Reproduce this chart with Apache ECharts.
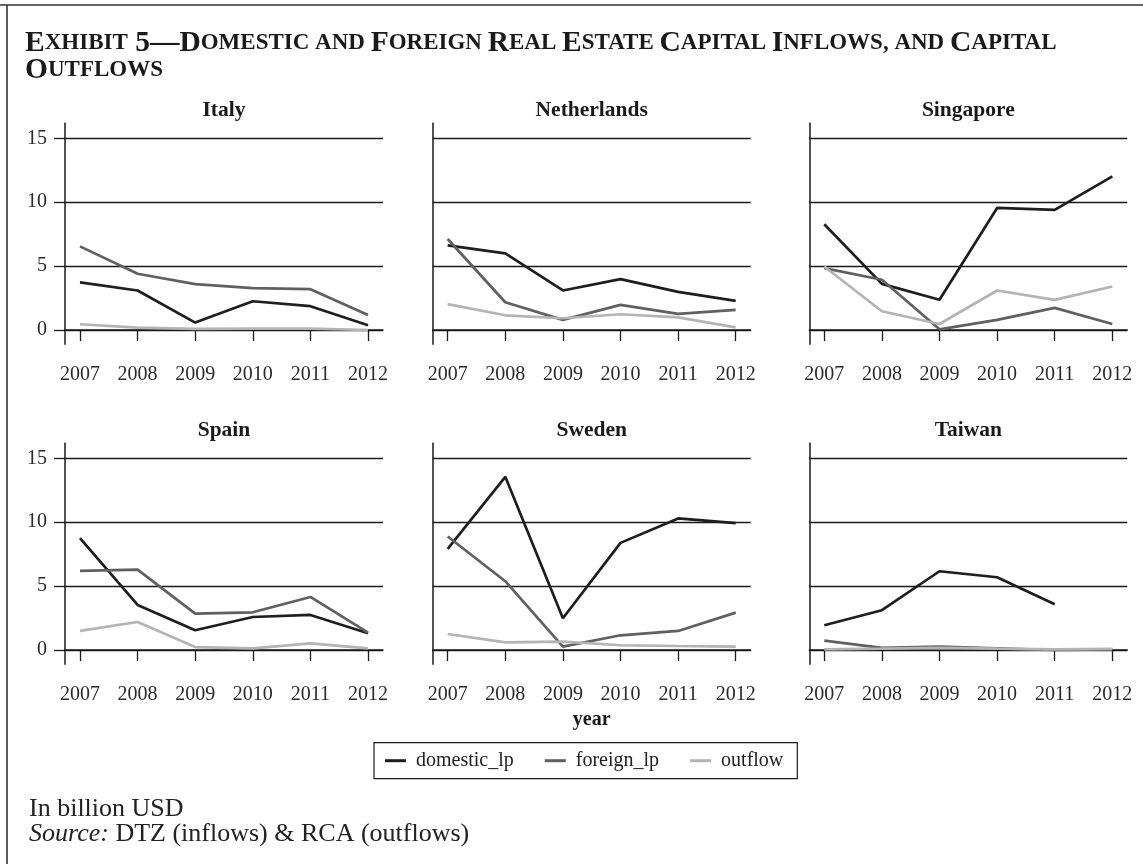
<!DOCTYPE html>
<html>
<head>
<meta charset="utf-8">
<script src="https://cdn.jsdelivr.net/npm/echarts@6/dist/echarts.min.js"></script>
<style>
  html, body { margin: 0; padding: 0; background: #fff; }
  #chart { width: 1143px; height: 864px; }
</style>
</head>
<body>
<div id="chart"></div>
<script>
// Years on the horizontal axis and value ticks on the vertical axis
const years = [2007, 2008, 2009, 2010, 2011, 2012];
const yTicks = [0, 5, 10, 15];
const countries = ['Italy', 'Netherlands', 'Singapore', 'Spain', 'Sweden', 'Taiwan'];
const seriesNames = ['domestic_lp', 'foreign_lp', 'outflow'];

// Capital flows, billion USD
const domesticItaly = [3.72, 3.09, 0.58, 2.25, 1.86, 0.37];
const foreignItaly  = [6.54, 4.40, 3.59, 3.27, 3.19, 1.18];
const outflowItaly  = [0.45, 0.18, 0.08, 0.10, 0.10, 0.00];

const domesticNetherlands = [6.62, 5.99, 3.09, 3.98, 2.98, 2.28];
const foreignNetherlands  = [7.12, 2.17, 0.79, 1.96, 1.26, 1.57];
const outflowNetherlands  = [2.02, 1.15, 0.92, 1.23, 0.99, 0.21];

const domesticSingapore = [8.27, 3.61, 2.36, 9.55, 9.40, 12.02];
const foreignSingapore  = [4.84, 3.93, 0.05, 0.79, 1.73, 0.47];
const outflowSingapore  = [4.97, 1.47, 0.47, 3.09, 2.36, 3.40];

const domesticSpain = [8.75, 3.52, 1.54, 2.58, 2.74, 1.31];
const foreignSpain  = [6.19, 6.29, 2.85, 2.95, 4.15, 1.36];
const outflowSpain  = [1.49, 2.19, 0.23, 0.13, 0.52, 0.13];

const domesticSweden = [7.91, 13.55, 2.48, 8.38, 10.29, 9.92];
const foreignSweden  = [8.88, 5.38, 0.26, 1.15, 1.49, 2.92];
const outflowSweden  = [1.25, 0.60, 0.65, 0.37, 0.31, 0.26];

const domesticTaiwan = [1.93, 3.11, 6.16, 5.69, 3.58, null];
const foreignTaiwan  = [0.73, 0.16, 0.26, 0.13, 0.00, 0.05];
const outflowTaiwan  = [0.05, 0.10, 0.16, 0.10, 0.05, 0.08];

const panelData = [
  [domesticItaly, foreignItaly, outflowItaly],
  [domesticNetherlands, foreignNetherlands, outflowNetherlands],
  [domesticSingapore, foreignSingapore, outflowSingapore],
  [domesticSpain, foreignSpain, outflowSpain],
  [domesticSweden, foreignSweden, outflowSweden],
  [domesticTaiwan, foreignTaiwan, outflowTaiwan]
];

const lineColors = ['#1e1e1e', '#606060', '#b4b4b4'];
const serif = '"Liberation Serif", "Times New Roman", serif';
const ink = '#1a1a1a';

// Panel geometry
const colLeft = [65, 432.7, 809.3];
const rowTop = [123.3, 443.3];
const panelW = 318;
const panelH = 221;

const grids = [], xAxes = [], yAxes = [], series = [], graphics = [];

countries.forEach((name, i) => {
  const col = i % 3, row = Math.floor(i / 3);
  grids.push({ left: colLeft[col], top: rowTop[row], width: panelW, height: panelH });
  xAxes.push({
    type: 'value', gridIndex: i, min: 2006.74, max: 2012.26,
    axisLine: { show: true, lineStyle: { color: ink, width: 1.5 } },
    axisTick: { show: true, length: 11, customValues: years, lineStyle: { color: ink, width: 1.3 } },
    axisLabel: { show: true, customValues: years, margin: 20, formatter: v => String(v),
      fontFamily: serif, fontSize: 20, color: '#2a2a2a' },
    splitLine: { show: false }
  });
  yAxes.push({
    type: 'value', gridIndex: i, min: -1.12, max: 16.17,
    axisLine: { show: true, lineStyle: { color: ink, width: 1.5 } },
    axisTick: { show: col === 0, length: 11, customValues: yTicks, lineStyle: { color: ink, width: 1.3 } },
    axisLabel: { show: col === 0, customValues: yTicks, margin: 18,
      fontFamily: serif, fontSize: 20, color: '#2a2a2a' },
    splitLine: { show: true, lineStyle: { color: ink, width: 1.3 } }
  });
  panelData[i].forEach((vals, k) => {
    series.push({
      name: seriesNames[k], type: 'line', xAxisIndex: i, yAxisIndex: i,
      data: years.map((y, j) => [y, vals[j]]),
      symbol: 'none', connectNulls: false, silent: true,
      lineStyle: { color: lineColors[k], width: 2.7 },
      itemStyle: { color: lineColors[k] },
      z: 3
    });
  });
  graphics.push({
    type: 'text', x: colLeft[col] + panelW / 2, y: rowTop[row] - 13,
    style: { text: name, fontFamily: serif, fontSize: 21.5, fontWeight: 'bold', fill: ink,
      textAlign: 'center', textVerticalAlign: 'middle' }
  });
});

// Frame lines
graphics.push({ type: 'line', shape: { x1: 0, y1: 5, x2: 1143, y2: 5 }, style: { stroke: '#333', lineWidth: 1.6 } });
graphics.push({ type: 'line', shape: { x1: 7, y1: 5, x2: 7, y2: 864 }, style: { stroke: '#333', lineWidth: 1.6 } });

// Exhibit heading in small capitals
const B = s => '{B|' + s + '}';
const S = s => '{S|' + s + '}';
const headLine1 = B('E') + S('XHIBIT') + B(' 5—D') + S('OMESTIC AND ') + B('F') + S('OREIGN ') +
  B('R') + S('EAL ') + B('E') + S('STATE ') + B('C') + S('APITAL ') + B('I') + S('NFLOWS, AND ') +
  B('C') + S('APITAL');
const headLine2 = B('O') + S('UTFLOWS');
const headRich = {
  B: { fontFamily: serif, fontSize: 29.5, fontWeight: 'bold', fill: ink },
  S: { fontFamily: serif, fontSize: 23, fontWeight: 'bold', fill: ink }
};
graphics.push({ type: 'text', x: 25, y: 28, style: { text: headLine1, rich: headRich, textVerticalAlign: 'top' } });
graphics.push({ type: 'text', x: 25, y: 55, style: { text: headLine2, rich: headRich, textVerticalAlign: 'top' } });

// Shared x title
graphics.push({
  type: 'text', x: colLeft[1] + panelW / 2, y: 720,
  style: { text: 'year', fontFamily: serif, fontSize: 20, fontWeight: 'bold', fill: ink,
    textAlign: 'center', textVerticalAlign: 'middle' }
});

// Notes
graphics.push({
  type: 'text', x: 29, y: 809,
  style: { text: 'In billion USD', fontFamily: serif, fontSize: 26, fill: '#222', textVerticalAlign: 'middle' }
});
graphics.push({
  type: 'text', x: 29, y: 834,
  style: {
    text: '{i|Source:} DTZ (inflows) & RCA (outflows)',
    fontFamily: serif, fontSize: 26, fill: '#222', textVerticalAlign: 'middle',
    rich: { i: { fontFamily: serif, fontSize: 26, fontStyle: 'italic', fill: '#222' } }
  }
});

const chart = echarts.init(document.getElementById('chart'), null, { renderer: 'canvas' });
chart.setOption({
  backgroundColor: '#fff',
  animation: false,
  grid: grids,
  xAxis: xAxes,
  yAxis: yAxes,
  series: series,
  legend: {
    data: seriesNames, left: 374, top: 742.7,
    orient: 'horizontal', itemGap: 31, itemWidth: 21, itemHeight: 3, icon: 'rect',
    padding: [8, 14, 8, 11], borderColor: ink, borderWidth: 1.2, borderRadius: 0,
    textStyle: { fontFamily: serif, fontSize: 20, color: '#222', padding: [0, 0, 0, 5] },
    selectedMode: false
  },
  graphic: graphics
});
</script>
</body>
</html>
